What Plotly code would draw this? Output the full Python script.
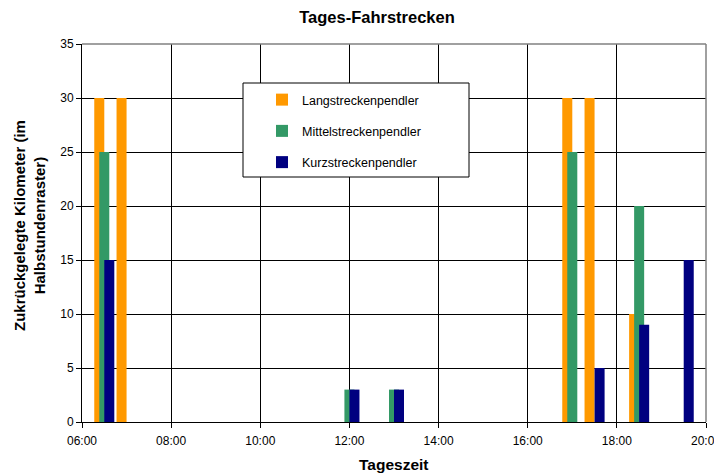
import plotly.graph_objects as go

# ---- data ----
times = ["06:30", "07:00", "12:00", "13:00", "17:00", "17:30", "18:30", "19:30"]
lang = [30, 30, 0, 0, 30, 30, 10, 0]
mittel = [25, 0, 3, 3, 25, 0, 20, 0]
kurz = [15, 0, 3, 3, 0, 5, 9, 15]
series_names = ["Langstreckenpendler", "Mittelstreckenpendler", "Kurzstreckenpendler"]
colors = ["#FF9900", "#339966", "#000080"]
x_tick_labels = ["06:00", "08:00", "10:00", "12:00", "14:00", "16:00", "18:00", "20:00"]

day = "2000-01-01 "
xs = [day + t for t in times]
tickvals = [day + t for t in x_tick_labels]

# The page body has an 8px margin, so the figure is drawn 8px smaller
# and all page-pixel positions are shifted by that offset.
OFF = 8
W, H = 722 - OFF, 475 - OFF
PL, PR, PT, PB = 82, 706, 44, 422   # plot area in page pixels
L, T = PL - OFF, PT - OFF
R, B = W - (PR - OFF), H - (PB - OFF)
PW, PH = PR - PL, PB - PT

MIN = 60 * 1000
bar_w = 13.5 * MIN
offsets = [-bar_w, -bar_w / 2, 0.0]

fig = go.Figure()
for i, (name, vals, col, off) in enumerate(zip(series_names, [lang, mittel, kurz], colors, offsets)):
    fig.add_trace(go.Bar(
        x=xs, y=vals, name=name, marker=dict(color=col, line=dict(width=0)),
        width=bar_w, offset=off, legendgroup="g%d" % i,
    ))

def px_x(p):
    return (p - PL) / PW

def px_y(p):
    return (PB - p) / PH

fig.update_layout(
    width=W, height=H,
    barmode="overlay",
    paper_bgcolor="white", plot_bgcolor="white",
    margin=dict(l=L, r=R, t=T, b=B),
    font=dict(family="Liberation Sans, Arial, sans-serif", size=12, color="black"),
    title=dict(text="<b>Tages-Fahrstrecken</b>", x=(377 - OFF) / W, xanchor="center",
               y=1 - (17 - OFF) / H, yanchor="middle", font=dict(size=16.5)),
    showlegend=True,
    legend=dict(x=px_x(262), y=px_y(85), xanchor="left", yanchor="top",
                borderwidth=0, bgcolor="rgba(0,0,0,0)",
                font=dict(size=12.5), tracegroupgap=12),
    xaxis=dict(
        type="date", range=[day + "06:00", day + "20:00"],
        tickvals=tickvals, ticktext=x_tick_labels,
        showgrid=True, gridcolor="black", gridwidth=1,
        showline=True, linecolor="black", linewidth=1, mirror=False,
        ticks="outside", ticklen=5, tickcolor="black", automargin=False,
        ticklabelstandoff=3,
    ),
    yaxis=dict(
        range=[0, 35], dtick=5, tick0=0,
        showgrid=True, gridcolor="black", gridwidth=1,
        showline=True, linecolor="black", linewidth=1,
        ticks="outside", ticklen=5, tickcolor="black", automargin=False,
        zeroline=False,
    ),
    annotations=[
        dict(text="<b>Zukrückgelegte Kilometer (im<br>Halbstundenraster)</b>",
             xref="paper", yref="paper", x=px_x(29), y=px_y(226),
             xanchor="center", yanchor="middle", textangle=-90, showarrow=False,
             font=dict(size=15)),
        dict(text="<b>Tageszeit</b>", xref="paper", yref="paper",
             x=px_x(394), y=px_y(464), xanchor="center", yanchor="middle",
             showarrow=False, font=dict(size=15.5)),
    ],
)

# legend box
fig.add_shape(type="rect", xref="paper", yref="paper",
              x0=px_x(243), x1=px_x(469), y0=px_y(177), y1=px_y(83),
              line=dict(color="black", width=1), fillcolor="white", layer="above")
# grey top/right border of plot area
fig.add_shape(type="line", xref="paper", yref="paper", x0=0, x1=1, y0=1, y1=1,
              line=dict(color="#808080", width=1.5))
fig.add_shape(type="line", xref="paper", yref="paper", x0=1, x1=1, y0=0, y1=1,
              line=dict(color="#808080", width=1.5))

fig.write_html("out.html")
